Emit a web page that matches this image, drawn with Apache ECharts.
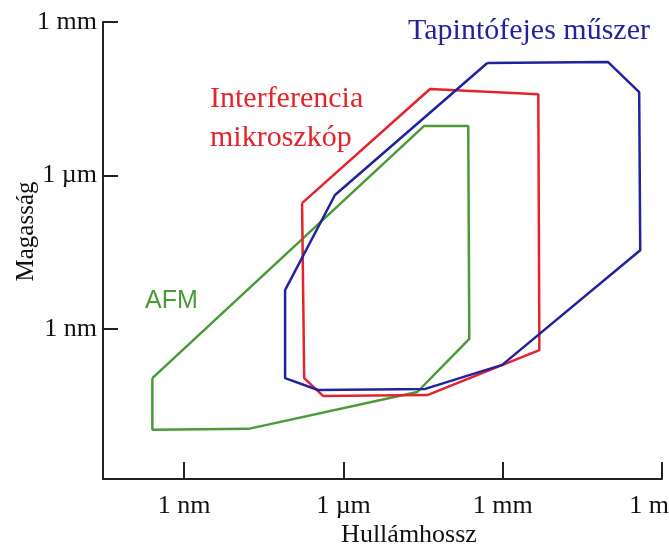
<!DOCTYPE html>
<html>
<head>
<meta charset="utf-8">
<script src="https://cdn.jsdelivr.net/npm/echarts@6/dist/echarts.min.js"></script>
<style>
html,body{margin:0;padding:0;background:#fff;}
#c{width:669px;height:547px;}
</style>
</head>
<body>
<div id="c"></div>
<script>
// log10 of length in metres
const xTickValues = [-9, -6, -3, 0];
const xTickLabels = ['1 nm', '1 µm', '1 mm', '1 m'];
const yTickValues = [-9, -6, -3];
const yTickLabels = ['1 nm', '1 µm', '1 mm'];

const seriesNames = ['AFM', 'Interferencia mikroszkóp', 'Tapintófejes műszer'];

// polygon vertices: [log10 wavelength, log10 height]
const afmX = [-9.60, -9.60, -7.79, -4.61, -3.63, -3.65, -4.48, -9.60];
const afmY = [-9.96, -10.97, -10.95, -10.23, -9.19, -5.03, -5.03, -9.96];

const interfX = [-6.78, -4.37, -2.33, -2.31, -4.42, -6.38, -6.74, -6.78];
const interfY = [-6.54, -4.31, -4.41, -9.41, -10.29, -10.31, -9.96, -6.54];

const stylusX = [-3.29, -1.02, -0.43, -0.41, -3.01, -4.46, -6.48, -7.10, -7.10, -6.16, -3.29];
const stylusY = [-3.80, -3.78, -4.37, -7.46, -9.70, -10.17, -10.19, -9.96, -8.24, -6.38, -3.80];

const colors = ['#4a9a3a', '#e4232c', '#22229e'];

function pairs(xs, ys) { return xs.map((x, i) => [x, ys[i]]); }

const serif = '"Liberation Serif", "Times New Roman", serif';
const chart = echarts.init(document.getElementById('c'));
const tickMap = (vals, labs) => v => { const i = vals.indexOf(Math.round(v)); return i >= 0 ? labs[i] : ''; };
const xLabelFmt = v => {
  const i = xTickValues.indexOf(Math.round(v));
  if (i < 0) return '';
  return i === xTickValues.length - 1 ? '{last|' + xTickLabels[i] + '}' : xTickLabels[i];
};

chart.setOption({
  animation: false,
  backgroundColor: '#fff',
  grid: { left: 103, right: 7, top: 22, bottom: 68, containLabel: false, outerBoundsMode: 'none' },
  xAxis: {
    type: 'value', min: -10.53, max: 0,
    name: 'Hullámhossz', nameLocation: 'middle', nameGap: 43, nameMoveOverlap: false,
    nameTextStyle: { fontFamily: serif, fontSize: 26, color: '#111', padding: [0, 0, 0, 53] },
    axisLine: { show: true, onZero: false, lineStyle: { color: '#222', width: 2 } },
    axisTick: { show: true, inside: true, length: 17, customValues: xTickValues, lineStyle: { color: '#222', width: 2 } },
    axisLabel: {
      customValues: xTickValues, formatter: xLabelFmt, fontFamily: serif, fontSize: 26, color: '#111', margin: 14,
      rich: { last: { fontFamily: serif, fontSize: 26, color: '#111', padding: [0, 26, 0, 0] } }
    },
    splitLine: { show: false }
  },
  yAxis: {
    type: 'value', min: -11.93, max: -3,
    name: 'Magasság', nameLocation: 'middle', nameGap: 64, nameRotate: 90, nameMoveOverlap: false,
    nameTextStyle: { fontFamily: serif, fontSize: 25, color: '#111', padding: [0, 0, 0, 38] },
    axisLine: { show: true, onZero: false, lineStyle: { color: '#222', width: 2 } },
    axisTick: { show: true, inside: true, length: 15, customValues: yTickValues, lineStyle: { color: '#222', width: 2 } },
    axisLabel: { customValues: yTickValues, formatter: tickMap(yTickValues, yTickLabels), fontFamily: serif, fontSize: 26, color: '#111', margin: 6 },
    splitLine: { show: false }
  },
  series: [
    { name: seriesNames[0], type: 'line', data: pairs(afmX, afmY), showSymbol: false, lineStyle: { color: colors[0], width: 2.5 }, itemStyle: { color: colors[0] }, z: 2 },
    { name: seriesNames[1], type: 'line', data: pairs(interfX, interfY), showSymbol: false, lineStyle: { color: colors[1], width: 2.5 }, itemStyle: { color: colors[1] }, z: 3 },
    { name: seriesNames[2], type: 'line', data: pairs(stylusX, stylusY), showSymbol: false, lineStyle: { color: colors[2], width: 2.5 }, itemStyle: { color: colors[2] }, z: 4 }
  ],
  graphic: [
    { type: 'text', left: 408, top: 16, style: { text: 'Tapintófejes műszer', font: '30px ' + serif, fill: colors[2] } },
    { type: 'text', left: 210, top: 84, style: { text: 'Interferencia', font: '30px ' + serif, fill: colors[1] } },
    { type: 'text', left: 210, top: 123, style: { text: 'mikroszkóp', font: '30px ' + serif, fill: colors[1] } },
    { type: 'text', left: 145, top: 289, style: { text: 'AFM', font: '25px "Liberation Sans", Arial, sans-serif', fill: colors[0] } }
  ]
});
</script>
</body>
</html>
